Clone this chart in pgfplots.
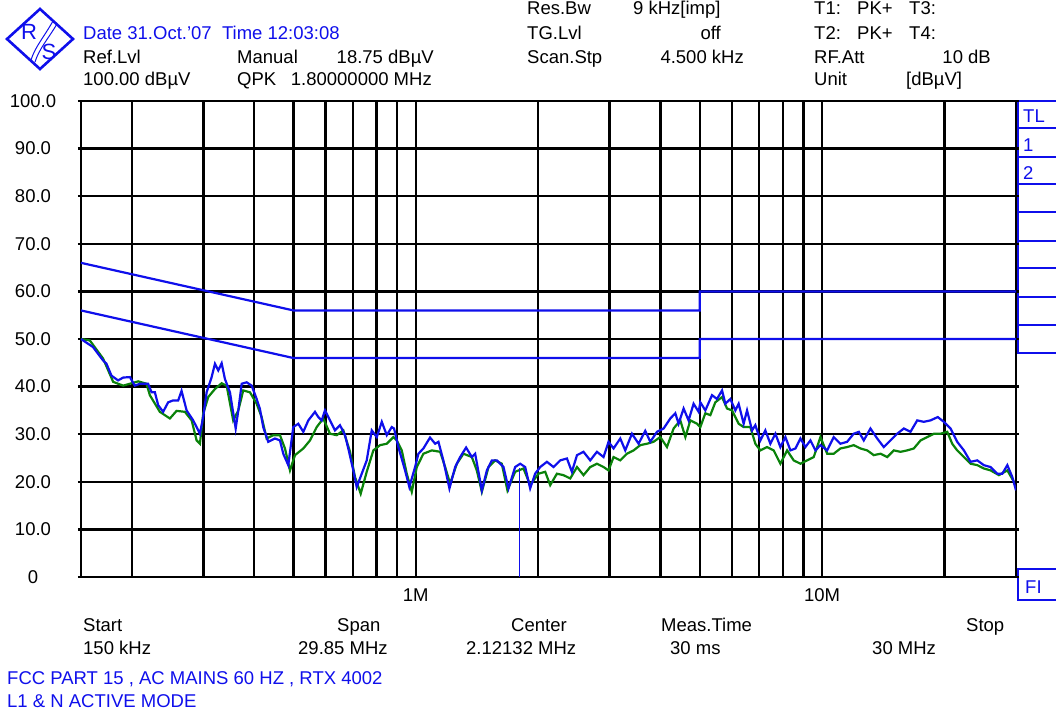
\documentclass[border=0pt]{standalone}
\usepackage{pgfplots}
\pgfplotsset{compat=1.18}
\usepackage{fontspec}
\setmainfont{Liberation Sans}
\definecolor{rsblue}{RGB}{15,15,235}
\definecolor{rsgreen}{RGB}{10,130,10}
\newcommand\fs{\fontsize{18.5}{20}\selectfont}
\begin{document}
\begin{tikzpicture}[x=1pt,y=1pt,font=\fs]
\useasboundingbox (0,0) rectangle (1056,713);
% logo
\draw[rsblue,line width=2.6pt] (7,674) -- (40,704) -- (73,674) -- (40,644) -- cycle;
\node[rsblue,inner sep=0,font=\fontsize{22}{22}\selectfont] at (29,681) {R};
\node[rsblue,inner sep=0,font=\fontsize{22}{22}\selectfont] at (49,661) {S};
\draw[rsblue,line width=1pt] (31,653) .. controls (35,666) and (44,676) .. (53,692);
\draw[rsblue,line width=1pt] (35,651) .. controls (39,664) and (48,674) .. (57,689);
% header left
\node[rsblue,anchor=base west,inner sep=0] at (83,673) {Date 31.Oct.'07\ \ Time 12:03:08};
\node[anchor=base west,inner sep=0] at (83,649) {Ref.Lvl};
\node[anchor=base west,inner sep=0] at (237,649) {Manual};
\node[anchor=base east,inner sep=0] at (434,649) {18.75 dBµV};
\node[anchor=base west,inner sep=0] at (83,627) {100.00 dBµV};
\node[anchor=base west,inner sep=0] at (237,627) {QPK};
\node[anchor=base east,inner sep=0] at (432,627) {1.80000000 MHz};
% header right
\node[anchor=base west,inner sep=0] at (527,698) {Res.Bw};
\node[anchor=base west,inner sep=0] at (633,698) {9 kHz[imp]};
\node[anchor=base west,inner sep=0] at (527,673) {TG.Lvl};
\node[anchor=base east,inner sep=0] at (721,673) {off};
\node[anchor=base west,inner sep=0] at (527,649) {Scan.Stp};
\node[anchor=base east,inner sep=0] at (744,649) {4.500 kHz};
\node[anchor=base west,inner sep=0] at (814,698) {T1:};
\node[anchor=base west,inner sep=0] at (857,698) {PK+};
\node[anchor=base west,inner sep=0] at (909,698) {T3:};
\node[anchor=base west,inner sep=0] at (814,673) {T2:};
\node[anchor=base west,inner sep=0] at (857,673) {PK+};
\node[anchor=base west,inner sep=0] at (909,673) {T4:};
\node[anchor=base west,inner sep=0] at (814,649) {RF.Att};
\node[anchor=base east,inner sep=0] at (991,649) {10 dB};
\node[anchor=base west,inner sep=0] at (814,627) {Unit};
\node[anchor=base west,inner sep=0] at (906,627) {[dBµV]};
% right side boxes
\draw[rsblue,line width=1.8pt] (1056,612) -- (1018,612) -- (1018,360) -- (1056,360);
\foreach \yy in {584.7,556.3,528.7,501.3,472,444.7,416.3,388}
  \draw[rsblue,line width=1.8pt] (1018,\yy) -- (1056,\yy);
\node[rsblue,anchor=base west,inner sep=0] at (1023,590) {TL};
\node[rsblue,anchor=base west,inner sep=0] at (1023,561) {1};
\node[rsblue,anchor=base west,inner sep=0] at (1023,533) {2};
\draw[rsblue,line width=1.8pt] (1056,144) -- (1018,144) -- (1018,113) -- (1056,113);
\node[rsblue,anchor=base west,inner sep=0] at (1025,120) {FI};
% bottom text
\node[anchor=base west,inner sep=0] at (83,82) {Start};
\node[anchor=base west,inner sep=0] at (83,59) {150 kHz};
\node[anchor=base west,inner sep=0] at (337,82) {Span};
\node[anchor=base west,inner sep=0] at (298,59) {29.85 MHz};
\node[anchor=base west,inner sep=0] at (511,82) {Center};
\node[anchor=base west,inner sep=0] at (466,59) {2.12132 MHz};
\node[anchor=base west,inner sep=0] at (661,82) {Meas.Time};
\node[anchor=base west,inner sep=0] at (670,59) {30 ms};
\node[anchor=base west,inner sep=0] at (966,82) {Stop};
\node[anchor=base west,inner sep=0] at (872,59) {30 MHz};
\node[rsblue,anchor=base west,inner sep=0] at (7,29) {FCC PART 15 , AC MAINS 60 HZ , RTX 4002};
\node[rsblue,anchor=base west,inner sep=0] at (7,6) {L1 \& N ACTIVE MODE};
\begin{axis}[
  at={(81pt,136pt)}, anchor=south west, scale only axis,
  width=935pt, height=476pt,
  xmode=log, xmin=0.15, xmax=30, ymin=0, ymax=100,
  xtick={1,10}, xticklabels={1M,10M},
  minor xtick={0.2,0.3,0.4,0.5,0.6,0.7,0.8,0.9,2,3,4,5,6,7,8,9,20},
  ytick={0,10,...,100},
  yticklabels={0,10.0,20.0,30.0,40.0,50.0,60.0,70.0,80.0,90.0,100.0},
  grid=both,
  major grid style={black,line width=2.4pt},
  minor grid style={black,line width=2.4pt},
  axis line style={black,line width=2.4pt},
  xtick style={draw=none}, minor tick length=0pt,
  ytick style={black,line width=2.4pt}, major tick length=3pt, tick align=outside,
  x tick label style={anchor=center, yshift=-15pt},
  y tick label style={anchor=center, xshift=-45pt},
  tick label style={font=\fs},
]
% limit lines
\addplot[rsblue,line width=2.2pt] coordinates {(0.15,66) (0.5,56) (5,56) (5,60) (30,60)};
\addplot[rsblue,line width=2.2pt] coordinates {(0.15,56) (0.5,46) (5,46) (5,50) (30,50)};
% green trace
\addplot[rsgreen,line width=2.2pt] coordinates {
(0.15,50) (0.1577,49.7) (0.1700,45.9) (0.1800,41.0) (0.1905,40.2) (0.1979,40.6)
(0.2074,41.1) (0.2174,40.6) (0.2216,38.2) (0.2345,34.7) (0.2482,33.3) (0.2578,34.9)
(0.2703,34.7) (0.2808,32.9) (0.2888,28.7) (0.2943,28.0) (0.2998,34.3) (0.3085,37.8)
(0.3205,39.5) (0.3329,40.7) (0.3424,40.2) (0.3554,32.9) (0.3658,35.0) (0.3762,39.2)
(0.3908,38.8) (0.4059,36.4) (0.4175,33.6) (0.4295,29.1) (0.4460,29.8) (0.4632,29.8)
(0.4765,27.0) (0.4902,22.4) (0.5043,25.6) (0.5287,27.0) (0.5492,28.7) (0.5704,31.5)
(0.5920,33.3) (0.6150,30.1) (0.6388,29.8) (0.6632,30.8) (0.6890,26.3) (0.7087,21.0)
(0.7319,17.5) (0.7574,22.1) (0.7864,26.6) (0.8168,27.7) (0.8484,28.0) (0.8808,29.4)
(0.8979,28.7) (0.9236,26.6) (0.9502,21.7) (0.9775,17.9) (1.0057,23.1) (1.044,25.9)
(1.095,26.6) (1.148,26.3) (1.181,23.1) (1.215,19.6) (1.262,23.8) (1.310,25.9)
(1.374,25.2) (1.413,22.4) (1.454,17.9) (1.510,23.1) (1.568,24.5) (1.628,23.8)
(1.681,18.2) (1.756,22.1) (1.841,22.8) (1.912,19.3) (2.004,21.7) (2.082,22.1)
(2.142,19.3) (2.225,21.7) (2.309,21.4) (2.399,20.7) (2.493,23.1) (2.587,21.4)
(2.687,23.1) (2.791,23.8) (2.898,23.1) (2.981,22.4) (3.067,25.2) (3.186,24.5)
(3.309,25.9) (3.436,26.6) (3.568,27.7) (3.707,28.0) (3.847,28.4) (3.997,29.4)
(4.151,27.3) (4.310,31.2) (4.477,32.9) (4.607,29.4) (4.739,32.9) (4.922,32.2)
(5.015,31.5) (5.159,34.4) (5.307,34.0) (5.459,36.7) (5.671,37.8) (5.834,35.4)
(6.003,35.0) (6.231,32.2) (6.410,31.5) (6.658,31.5) (6.849,28.0) (7.047,26.6)
(7.319,27.3) (7.600,26.6) (7.894,23.8) (8.200,26.6) (8.511,24.5) (8.844,23.8)
(9.186,24.5) (9.535,25.2) (9.904,29.4) (10.29,25.9) (10.68,25.9) (11.09,27.0)
(11.52,27.3) (11.96,27.7) (12.43,27.0) (12.91,26.6) (13.40,25.6) (13.92,25.9)
(14.46,25.2) (15.01,26.6) (15.59,26.3) (16.20,26.6) (16.81,27.0) (17.47,28.7)
(18.14,29.4) (18.84,30.1) (19.56,30.1) (20.32,30.5) (20.90,28.0) (21.50,26.6)
(22.33,25.2) (23.19,23.8) (24.09,23.5) (25.00,22.8) (25.97,22.4) (27.23,21.4)
(28.56,22.4) (29.65,20.0)
};
% blue trace
\addplot[rsblue,line width=2.2pt] coordinates {
(0.15,50.0) (0.1606,48.3) (0.1700,45.5) (0.1733,44.8) (0.1783,42.3) (0.1851,41.3)
(0.1905,41.9) (0.1979,42.0) (0.2035,40.2) (0.2094,40.6) (0.2194,40.6) (0.2238,38.8)
(0.2280,38.8) (0.2323,36.1) (0.2389,34.7) (0.2458,36.7) (0.2529,37.1) (0.2602,37.1)
(0.2652,39.1) (0.2729,35.0) (0.2833,32.9) (0.2943,30.1) (0.2998,33.6) (0.3057,38.8)
(0.3145,42.0) (0.3205,44.8) (0.3265,43.4) (0.3329,44.9) (0.3391,41.6) (0.3489,38.8)
(0.3604,31.2) (0.3658,35.0) (0.3729,40.6) (0.3835,40.9) (0.3946,40.2) (0.4059,37.4)
(0.4135,35.3) (0.4213,31.5) (0.4334,28.4) (0.4502,29.1) (0.4632,28.7) (0.4719,25.9)
(0.4855,23.5) (0.4995,31.5) (0.5138,32.2) (0.5287,30.5) (0.5439,32.9) (0.5649,34.7)
(0.5755,33.6) (0.5868,32.9) (0.5978,35.0) (0.6150,32.9) (0.6326,30.8) (0.6508,31.9)
(0.6696,29.8) (0.6823,27.0) (0.7019,22.4) (0.7156,18.9) (0.7362,21.7) (0.7574,24.5)
(0.7792,30.8) (0.8016,29.4) (0.8248,32.6) (0.8484,29.8) (0.8728,31.5) (0.8841,31.2)
(0.9060,27.3) (0.9410,22.4) (0.9643,18.9) (0.9960,23.1) (1.0149,25.9) (1.044,27.0)
(1.084,29.3) (1.116,28.0) (1.137,28.4) (1.169,24.5) (1.210,18.6) (1.250,23.1)
(1.286,25.2) (1.330,27.2) (1.374,25.2) (1.400,25.9) (1.454,18.2) (1.496,22.4)
(1.539,24.5) (1.583,24.5) (1.644,23.1) (1.691,18.6) (1.756,23.1) (1.807,23.8)
(1.859,23.1) (1.912,18.6) (1.967,21.7) (2.024,23.1) (2.102,24.2) (2.183,23.1)
(2.267,24.5) (2.355,24.9) (2.422,22.1) (2.493,25.6) (2.587,26.3) (2.687,24.5)
(2.791,26.3) (2.898,25.2) (2.981,28.4) (3.067,27.0) (3.186,29.1) (3.277,26.6)
(3.404,30.1) (3.534,28.0) (3.671,30.7) (3.777,28.4) (3.923,30.5) (4.073,31.2)
(4.230,33.3) (4.352,34.4) (4.434,32.2) (4.561,35.4) (4.692,32.9) (4.827,36.4)
(4.967,34.7) (5.015,36.7) (5.159,35.0) (5.358,38.2) (5.512,37.4) (5.671,39.2)
(5.779,36.4) (5.945,37.4) (6.115,35.0) (6.231,36.4) (6.410,32.2) (6.535,35.0)
(6.723,30.8) (6.849,31.9) (7.047,28.7) (7.249,30.8) (7.458,28.0) (7.674,30.1)
(7.894,27.3) (8.121,29.4) (8.355,26.6) (8.596,27.0) (8.844,29.1) (9.098,27.3)
(9.359,28.7) (9.627,26.6) (9.904,27.7) (10.29,26.6) (10.68,29.4) (11.09,28.0)
(11.52,28.4) (11.96,30.1) (12.31,30.5) (12.66,28.7) (13.15,31.2) (13.66,29.1)
(14.18,27.3) (14.73,28.7) (15.30,30.1) (15.89,31.2) (16.50,30.5) (17.14,32.9)
(17.79,32.6) (18.48,32.9) (19.26,33.6) (19.93,32.6) (20.70,31.2) (21.50,28.4)
(22.33,26.6) (23.19,24.2) (24.09,24.5) (25.00,23.5) (25.97,23.1) (26.98,21.7)
(27.76,21.7) (28.56,23.5) (29.38,21.0) (30,18.2)
};
% marker line
\addplot[rsblue,line width=1.2pt] coordinates {(1.8,0) (1.8,23)};
\end{axis}
\end{tikzpicture}
\end{document}
